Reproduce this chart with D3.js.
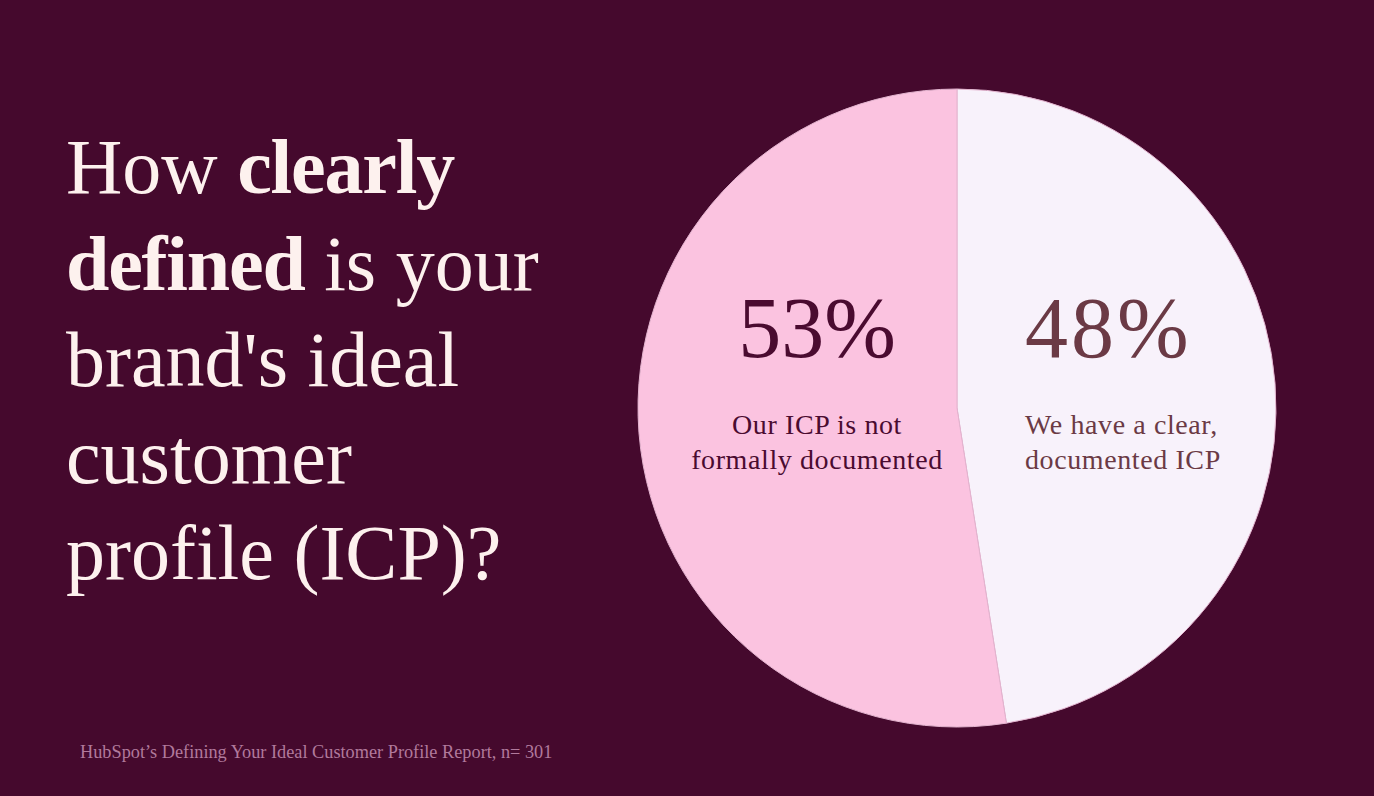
<!DOCTYPE html>
<html><head><meta charset="utf-8">
<script src="https://cdn.jsdelivr.net/npm/d3@7"></script>
<style>html,body{margin:0;padding:0;background:#45092d;}svg{display:block;}</style>
</head><body>
<svg id="c" width="1374" height="796"></svg>
<script>
const categories = ["We have a clear, documented ICP", "Our ICP is not formally documented"];
const values = [48, 53];
const valueLabels = ["48%", "53%"];
const labelLines = [["We have a clear,", "documented ICP"], ["Our ICP is not", "formally documented"]];
const titleLines = [
  [["How ", false], ["clearly", true]],
  [["defined", true], [" is your", false]],
  [["brand's ideal", false]],
  [["customer", false]],
  [["profile (ICP)?", false]]
];
const source = "HubSpot\u2019s Defining Your Ideal Customer Profile Report, n= 301";

const svg = d3.select("#c");
svg.append("rect").attr("width", 1374).attr("height", 796).attr("fill", "#45092d");

const serif = "'Liberation Serif', 'DejaVu Serif', serif";
// title
const title = svg.append("text").attr("font-family", serif).attr("font-size", 78).attr("fill", "#fdf1ee");
titleLines.forEach((line, i) => {
  line.forEach(([s, b], j) => {
    const sp = title.append("tspan").text(s).attr("font-weight", b ? 700 : 400)
      .attr("letter-spacing", b ? -1.2 : 0);
    if (j === 0) sp.attr("x", 66).attr("y", 193 + i * 96.5);
  });
});

// pie
const cx = 957, cy = 408, r = 319;
const colors = d3.scaleOrdinal().domain(categories).range(["#f8f2fb", "#fbc3e0"]);
const pie = d3.pie().sort(null).value(d => d)(values);
const arc = d3.arc().innerRadius(0).outerRadius(r);
const g = svg.append("g").attr("transform", `translate(${cx},${cy})`);
g.selectAll("path").data(pie).join("path")
  .attr("d", arc)
  .attr("fill", (d, i) => colors(categories[i]))
  .attr("stroke", "#e3b4cf").attr("stroke-width", 1);

// labels
const pctColors = ["#6b3a45", "#4a0b30"];
const lblColors = ["#6b3a45", "#4a0b30"];
const lx = [1025, 817];
const anchors = ["start", "middle"];
values.forEach((v, i) => {
  svg.append("text").attr("x", lx[i]).attr("y", 357).attr("text-anchor", anchors[i])
    .attr("font-family", serif).attr("font-size", 86).attr("letter-spacing", i === 0 ? 3 : 0)
    .attr("fill", pctColors[i]).text(valueLabels[i]);
  labelLines[i].forEach((l, k) => {
    svg.append("text").attr("x", lx[i]).attr("y", 434 + k * 35).attr("text-anchor", anchors[i])
      .attr("font-family", serif).attr("font-size", 28).attr("letter-spacing", 0.6)
      .attr("fill", lblColors[i]).text(l);
  });
});

svg.append("text").attr("x", 80).attr("y", 758).attr("font-family", serif)
  .attr("font-size", 18.3).attr("fill", "#b17a9c").text(source);
</script>
</body></html>
